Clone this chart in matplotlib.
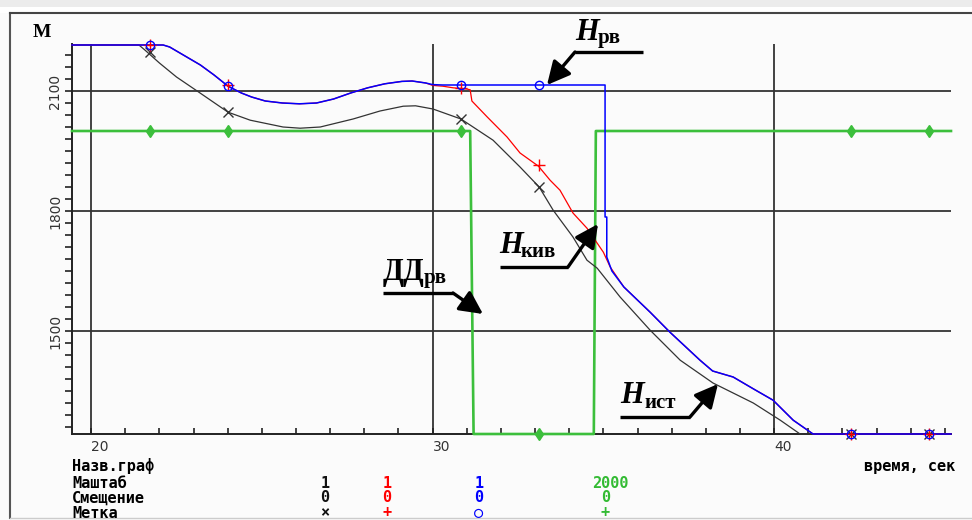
import numpy as np
import matplotlib
matplotlib.use('Agg')
import matplotlib.pyplot as plt
from matplotlib.transforms import Affine2D
from matplotlib.lines import Line2D
from matplotlib.patches import Rectangle

W, H = 972, 520

# H_ист (black), time [s] / height [m]
t_ist = [19.44, 21.40, 21.58, 22.0, 22.5, 23.19, 24.01, 24.66, 25.62, 26.12, 26.71,
         27.67, 28.46, 29.14, 29.5, 30.01, 30.83, 31.77, 32.56, 33.12, 33.53, 34.11,
         34.52, 34.82, 35.49, 36.37, 37.25, 38.21, 39.39, 40.18, 40.76, 45.18]
h_ist = [2215, 2215, 2202, 2170, 2135, 2095, 2047, 2027, 2010, 2007, 2010,
         2030, 2050, 2062, 2063, 2055, 2030, 1977, 1910, 1860, 1802, 1735,
         1677, 1657, 1585, 1502, 1427, 1370, 1320, 1277, 1240, 1240]

# H_кив (red)
t_kiv = [19.44, 22.11, 22.3, 22.7, 23.2, 23.6, 24.01, 24.4, 24.7, 25.1, 25.6, 26.1,
         26.6, 27.1, 27.6, 28.1, 28.6, 29.1, 29.4, 29.8, 30.0, 30.3, 30.6, 31.0,
         31.1, 31.15, 31.6, 32.18, 32.56, 33.1, 33.44, 33.73, 34.11, 34.52, 35.0,
         35.2, 35.6, 36.37, 36.95, 37.83, 38.2, 38.8, 39.4, 39.97, 40.56, 41.14, 45.18]
h_kiv = [2215, 2215, 2210, 2190, 2165, 2140, 2112, 2095, 2085, 2075, 2070, 2068,
         2070, 2080, 2095, 2108, 2118, 2124, 2125, 2120, 2114, 2112, 2108, 2105,
         2103, 2075, 2035, 1985, 1945, 1912, 1877, 1852, 1795, 1757, 1697,
         1660, 1610, 1547, 1497, 1427, 1400, 1385, 1355, 1327, 1277, 1240, 1240]

# H_рв (blue)
t_rv = [19.44, 22.11, 22.3, 22.7, 23.2, 23.6, 24.01, 24.4, 24.7, 25.1, 25.6, 26.1,
        26.6, 27.1, 27.6, 28.1, 28.6, 29.1, 29.4, 29.8, 30.0, 30.3, 35.05, 35.05,
        35.1, 35.1, 35.25, 35.6, 36.37, 36.95, 37.83, 38.2, 38.8, 39.4, 39.97,
        40.56, 41.14, 45.18]
h_rv = [2215, 2215, 2210, 2190, 2165, 2140, 2112, 2095, 2085, 2075, 2070, 2068,
        2070, 2080, 2095, 2108, 2118, 2124, 2125, 2120, 2116, 2115, 2115, 1785,
        1785, 1685, 1650, 1610, 1547, 1497, 1427, 1400, 1385, 1355, 1327,
        1277, 1240, 1240]

# ДД_рв (green), 0/1, scale 2000
t_dd = [19.44, 31.10, 31.20, 34.72, 34.78, 45.18]
dd_rv = [1, 1, 0, 0, 1, 1]
dd_scale = 2000

# marks
t_mark = [21.73, 24.01, 30.83, 33.12, 42.25, 44.53]
m_ist = [2197, 2047, 2030, 1860, 1240, 1240]
m_kiv = [2215, 2115, 2108, 1915, 1240, 1240]
m_rv = [2215, 2112, 2115, 2115, 1240, 1240]
m_dd = [1, 1, 1, 0, 1, 1]

X_MIN, X_MAX = 19.44, 45.18
Y_MIN, Y_MAX = 1242.5, 2217.5

fig = plt.figure(figsize=(W / 100, H / 100), dpi=100)
fig.patch.set_facecolor('#fbfbfb')
px = Affine2D().scale(1.0 / W, -1.0 / H).translate(0, 1) + fig.transFigure

# outer frame
fig.add_artist(Rectangle((0, 0), W, 7, transform=px, color='#ececec', lw=0))
fig.add_artist(Rectangle((0, 7), W, 6, transform=px, color='white', lw=0))
fig.add_artist(Line2D([10, 10], [13, 518], transform=px, color='#555555', lw=1.5))
fig.add_artist(Line2D([10, W], [13, 13], transform=px, color='#444444', lw=1.5))
fig.add_artist(Line2D([10, W], [518, 518], transform=px, color='#cccccc', lw=1.0))

ax = fig.add_axes([72 / W, (H - 434) / H, 879 / W, 390 / H])
ax.set_facecolor('none')
ax.set_xlim(X_MIN, X_MAX)
ax.set_ylim(Y_MIN, Y_MAX)
for s in ['top', 'right']:
    ax.spines[s].set_visible(False)
for s in ['left', 'bottom']:
    ax.spines[s].set_color('#222222')
    ax.spines[s].set_linewidth(1.4)

# grid
for x in [20, 30, 40]:
    ax.axvline(x, color='#333333', lw=1.3, zorder=1)
for y in [1500, 1800, 2100]:
    ax.axhline(y, color='#333333', lw=1.3, zorder=1)

ax.set_xticks([20, 30, 40])
ax.set_xticklabels(['20', '30', '40'], ha='left')
ax.set_xticks(np.arange(20, 46, 1), minor=True)
ax.set_yticks([1500, 1800, 2100])
ax.set_yticklabels(['1500', '1800', '2100'], rotation=90, va='center')
ax.set_yticks(np.arange(1260, 2200, 30), minor=True)
ax.tick_params(axis='x', which='both', direction='in', length=4, width=1.2,
               color='#222222', labelsize=10, labelcolor='#333333', pad=4)
ax.tick_params(axis='y', which='both', direction='out', length=5, width=1.2,
               color='#222222', labelsize=10, labelcolor='#333333', pad=2)

def clipped(v):
    return np.clip(np.array(v, dtype=float), Y_MIN, None)

green = '#3cbf3c'
ax.plot(t_dd, clipped(np.array(dd_rv) * dd_scale), color=green, lw=1.9, zorder=3, clip_on=False)
ax.plot(t_ist, clipped(h_ist), color='#333333', lw=0.9, zorder=3, clip_on=False)
ax.plot(t_kiv, clipped(h_kiv), color='#ff0000', lw=0.9, zorder=4, clip_on=False)
ax.plot(t_rv, clipped(h_rv), color='#0000ff', lw=1.1, zorder=5, clip_on=False)

ax.plot(t_mark, clipped(np.array(m_dd) * dd_scale), ls='none', marker='d', ms=6,
        color=green, zorder=6, clip_on=False)
ax.plot(t_mark, clipped(m_ist), ls='none', marker='x', ms=7, mew=1.0,
        color='#333333', zorder=6, clip_on=False)
ax.plot(t_mark, clipped(m_kiv), ls='none', marker='+', ms=8, mew=1.0,
        color='#ff0000', zorder=7, clip_on=False)
ax.plot(t_mark, clipped(m_rv), ls='none', marker='o', ms=6, mew=1.0, mfc='none',
        color='#0000ff', zorder=8, clip_on=False)

# "M"
fig.text(33, 37, 'M', transform=px, family='Liberation Serif', weight='bold',
         fontsize=14, va='baseline', ha='left')

# callouts: label, underline, arrow to the curve
def callout(name, sub, x, y, sx, sy, line_y, x0, x1, tip, italic=True, subsize=15):
    fig.text(x, y, name, transform=px, family='Liberation Serif', weight='bold',
             style='italic' if italic else 'normal', fontsize=22, va='baseline', ha='left')
    fig.text(sx, sy, sub, transform=px, family='Liberation Serif', weight='bold',
             fontsize=subsize, va='baseline', ha='left')
    fig.add_artist(Line2D([x0, x1], [line_y, line_y], transform=px, color='black',
                          lw=2.4, solid_capstyle='butt'))
    bend = x0 if tip[0] < x0 else x1
    ax.annotate('', xy=tip, xycoords=px, xytext=(bend, line_y), textcoords=px,
                arrowprops=dict(arrowstyle='-|>,head_length=0.7,head_width=0.35',
                                color='black', lw=2.4, mutation_scale=20,
                                shrinkA=0, shrinkB=0),
                annotation_clip=False, zorder=10)

callout('H', 'рв', 575, 40, 598, 43, 52, 575, 643, (547, 85))
callout('H', 'кив', 499, 253, 521, 257, 267, 500, 568, (598, 224))
callout('ДД', 'рв', 383, 280, 424, 283, 293, 383, 453, (483, 314), italic=False)
callout('H', 'ист', 620, 403, 644, 408, 417, 620, 690, (718, 384))

# table under the plot
mono = dict(family='DejaVu Sans Mono', weight='bold', fontsize=11, transform=px, va='center')
rows = ['Назв.граф', 'Маштаб', 'Смещение', 'Метка']
row_y = [466, 483, 498, 513]
for r, y in zip(rows, row_y):
    fig.text(72, y, r, ha='left', **mono)
fig.text(955, 466, 'время, сек', ha='right', **mono)

col_x = [325, 387, 479, 610]
col_c = ['#111111', '#ff0000', '#0000ff', '#33bb33']
scales = ['1', '1', '1', '2000']
shifts = ['0', '0', '0', '0']
marks = ['×', '+', '○', '+']
for x, c, s, o, m in zip(col_x, col_c, scales, shifts, marks):
    fig.text(x, 483, s, ha='center', color=c, **mono)
    fig.text(x if s != '2000' else 606, 498, o, ha='center', color=c, **mono)
    fig.text(x if s != '2000' else 605, 513, m, ha='center', color=c, **mono)

fig.savefig('out.png', dpi=100, facecolor=fig.get_facecolor())
